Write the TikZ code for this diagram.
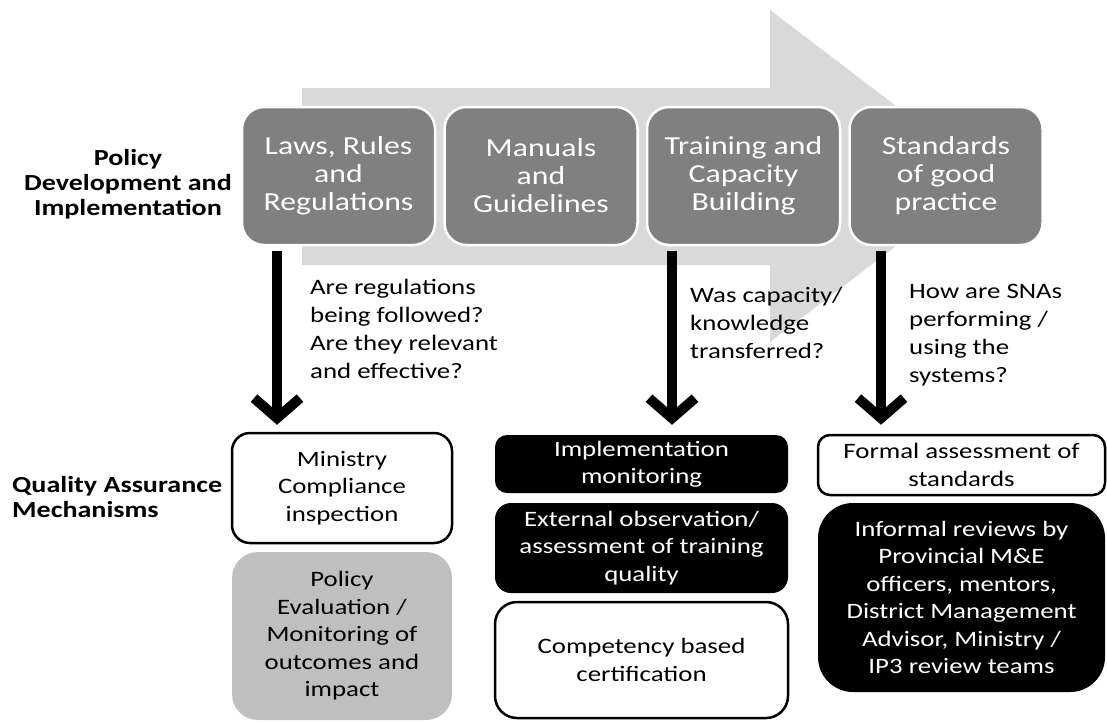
\documentclass[tikz,border=0pt]{standalone}
\usepackage{fontspec}
\setmainfont{Carlito}[FakeStretch=1.22]
\usetikzlibrary{arrows.meta}

\begin{document}
\begin{tikzpicture}[x=1pt,y=-1pt,
		topbox/.style={rectangle,rounded corners=22pt,fill=black!50,draw=white,line width=2.5pt,
			minimum width=193pt,minimum height=138pt,inner sep=2pt,align=center,text=white,
			font=\fontsize{26}{28}\selectfont},
		lowbox/.style={rectangle,rounded corners=16pt,minimum width=293pt,inner sep=2pt,align=center,
			font=\fontsize{22}{27.5}\selectfont},
		whitebox/.style={lowbox,fill=white,draw=black,line width=2.5pt},
		blackbox/.style={lowbox,fill=black,text=white},
		greybox/.style={lowbox,fill=black!25},
		question/.style={anchor=north west,inner sep=0pt,align=left,font=\fontsize{22}{28}\selectfont},
		sidelabel/.style={inner sep=0pt,font=\fontsize{23}{25}\selectfont\bfseries},
		qarrow/.style={line width=10pt,shorten <=5pt,-{Straight Barb[length=20pt,width=46pt]}}]
		%%%%% START %%%%%
		\useasboundingbox (0,0) rectangle (1107,721);
		
		% big grey arrow behind the top row
		\fill[black!15] (302,88) -- (770,88) -- (770,10) -- (988,176) -- (770,342) -- (770,265) -- (302,265) -- cycle;
		
		\node[topbox] (laws) at (338.5,176) {Laws, Rules\\and\\Regulations};
		\node[topbox] (manuals) at (541,176) {Manuals\\and\\Guidelines};
		\node[topbox] (training) at (743.5,176) {Training and\\Capacity\\Building};
		\node[topbox] (standards) at (946,176) {Standards\\of good\\practice};
		
		\node[sidelabel,align=center] (policylbl) at (128,184) {Policy\\Development and\\Implementation};
		\node[sidelabel,align=left,anchor=north west] (qalbl) at (12,476) {Quality Assurance\\Mechanisms};
		
		\node[question] (q1) at (310,279) {Are regulations\\being followed?\\Are they relevant\\and effective?};
		\node[question] (q2) at (690,287) {Was capacity/\\knowledge\\transferred?};
		\node[question] (q3) at (909,284) {How are SNAs\\performing /\\using the\\systems?};
		
		\node[whitebox,minimum width=220pt,minimum height=110pt,rounded corners=18pt] (ministry) at (342,488) {Ministry\\Compliance\\inspection};
		\node[greybox,minimum width=220pt,minimum height=168pt,rounded corners=26pt] (policyeval) at (342,636) {Policy\\Evaluation /\\Monitoring of\\outcomes and\\impact};
		
		\node[blackbox,minimum height=58pt,rounded corners=12pt] (implmon) at (641.5,464) {Implementation\\monitoring};
		\node[blackbox,minimum height=90pt] (extobs) at (641.5,548) {External observation/\\assessment of training\\quality};
		\node[whitebox,minimum height=116pt,rounded corners=22pt] (competency) at (641.5,660) {Competency based\\certification};
		
		\node[whitebox,minimum width=287pt,minimum height=60pt,rounded corners=12pt] (formal) at (961.5,465) {Formal assessment of\\standards};
		\node[blackbox,minimum width=287pt,minimum height=189pt,rounded corners=35pt] (informal) at (961.5,597.5) {Informal reviews by\\Provincial M\&E\\officers, mentors,\\District Management\\Advisor, Ministry /\\IP3 review teams};
		
		% question arrows
		\coordinate (a1) at ([xshift=-61.5pt]laws.south);
		\coordinate (a2) at ([xshift=-71.5pt]training.south);
		\coordinate (a3) at ([xshift=-65pt]standards.south);
		\draw[qarrow,shorten >=7pt] (a1) -- (a1 |- ministry.north);
		\draw[qarrow,shorten >=10pt] (a2) -- (a2 |- implmon.north);
		\draw[qarrow,shorten >=9pt] (a3) -- (a3 |- formal.north);
		%%%%% END %%%%%
	\end{tikzpicture}
\end{document}
